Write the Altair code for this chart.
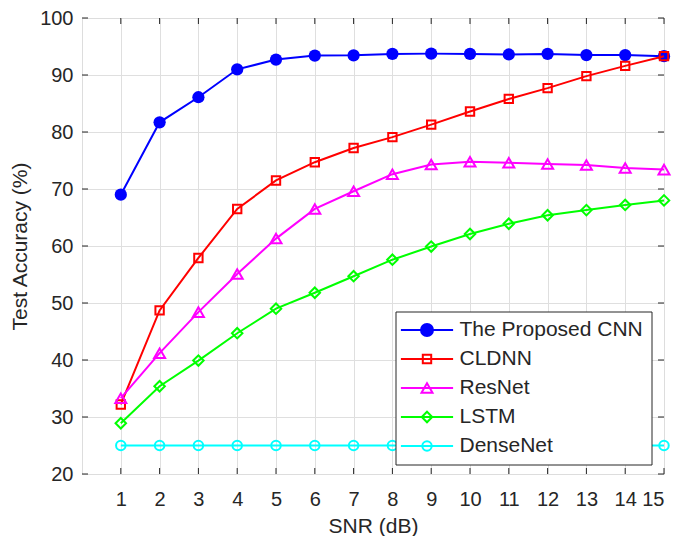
import altair as alt
import pandas as pd

snr = list(range(1, 16))
models = ["The Proposed CNN", "CLDNN", "ResNet", "LSTM", "DenseNet"]
cnn = [69.0, 81.7, 86.1, 91.0, 92.7, 93.4, 93.45, 93.7, 93.75, 93.7, 93.6, 93.7, 93.5, 93.5, 93.3]
cldnn = [32.2, 48.7, 57.9, 66.5, 71.5, 74.7, 77.2, 79.1, 81.3, 83.6, 85.8, 87.7, 89.8, 91.6, 93.3]
resnet = [33.3, 41.2, 48.4, 55.1, 61.3, 66.5, 69.6, 72.6, 74.3, 74.8, 74.6, 74.4, 74.2, 73.7, 73.4]
lstm = [28.9, 35.4, 39.9, 44.7, 49.0, 51.8, 54.7, 57.6, 59.9, 62.1, 63.9, 65.4, 66.3, 67.2, 68.0]
densenet = [25.0] * 15

x_ticks = list(range(1, 16))
y_ticks = list(range(20, 101, 10))

colors = ["#0000ff", "#ff0000", "#ff00ff", "#00ff00", "#00ffff"]
shapes = ["circle", "square", "triangle-up", "diamond", "circle"]
sizes = [150, 70, 121, 110, 90]
filled = [True, False, False, False, False]

series = [cnn, cldnn, resnet, lstm, densenet]
rows = []
for m, vals in zip(models, series):
    for s, v in zip(snr, vals):
        rows.append({"snr": s, "acc": v, "model": m})
df = pd.DataFrame(rows)
xt_df = pd.DataFrame({"snr": x_ticks})
yt_df = pd.DataFrame({"acc": y_ticks})

W, H = 582, 456
TXT = "#262626"
FONT = "Liberation Sans"

xs = alt.Scale(domain=[0, 15], nice=False, zero=False)
ys = alt.Scale(domain=[20, 100], nice=False, zero=False)

axes = [
    # labels + titles
    (alt.Axis(orient="bottom", values=x_ticks, title="SNR (dB)", grid=False, ticks=False, domain=False,
              labelFontSize=20, labelFont=FONT, labelColor=TXT, labelPadding=15,
              titleFontSize=21, titleFont=FONT, titleColor=TXT, titleFontWeight="normal", titlePadding=6),
     alt.Axis(orient="left", values=y_ticks, title="Test Accuracy (%)", grid=False, ticks=False, domain=False,
              labelFontSize=20, labelFont=FONT, labelColor=TXT, labelPadding=9,
              titleFontSize=21, titleFont=FONT, titleColor=TXT, titleFontWeight="normal", titlePadding=9)),
    # grid
    (alt.Axis(orient="bottom", values=x_ticks[:-1], labels=False, ticks=False, domain=False, title=None,
              grid=True, gridColor="#dfdfdf", gridWidth=1),
     alt.Axis(orient="left", values=y_ticks[1:-1], labels=False, ticks=False, domain=False, title=None,
              grid=True, gridColor="#dfdfdf", gridWidth=1)),
]

layers = []
k = 0
for i, m in enumerate(models):
    base = alt.Chart(df).transform_filter(alt.datum.model == m)
    for kind in ("line", "point"):
        if k < len(axes):
            ax, ay = axes[k]
        else:
            ax, ay = None, None
        enc = dict(
            x=alt.X("snr:Q", scale=xs, axis=ax),
            y=alt.Y("acc:Q", scale=ys, axis=ay),
        )
        if kind == "line":
            layers.append(base.mark_line(color=colors[i], strokeWidth=2).encode(**enc))
        else:
            if filled[i]:
                mk = base.mark_point(shape=shapes[i], size=sizes[i], filled=True, color=colors[i], opacity=1)
            else:
                mk = base.mark_point(shape=shapes[i], size=sizes[i], filled=False, color=colors[i],
                                     strokeWidth=2, opacity=1)
            layers.append(mk.encode(**enc))
        k += 1

# inward tick marks on all four sides of the box
TL = 6
tick_x = alt.Chart(xt_df)
tick_y = alt.Chart(yt_df)
layers += [
    tick_x.mark_rule(color=TXT, strokeWidth=1).encode(
        x=alt.X("snr:Q", scale=xs, axis=None), y=alt.value(H), y2=alt.value(H - TL)),
    tick_x.mark_rule(color=TXT, strokeWidth=1).encode(
        x=alt.X("snr:Q", scale=xs, axis=None), y=alt.value(0), y2=alt.value(TL)),
    tick_y.mark_rule(color=TXT, strokeWidth=1).encode(
        y=alt.Y("acc:Q", scale=ys, axis=None), x=alt.value(0), x2=alt.value(TL)),
    tick_y.mark_rule(color=TXT, strokeWidth=1).encode(
        y=alt.Y("acc:Q", scale=ys, axis=None), x=alt.value(W), x2=alt.value(W - TL)),
]

L = "M-4.35,0H4.35"
legend_paths = [
    L + "M1,0A1,1,0,1,1,-1,0A1,1,0,1,1,1,0Z",
    L + "M-0.7,-0.7H0.7V0.7H-0.7Z",
    L + "M0,-0.8L0.92,0.8L-0.92,0.8Z",
    L + "M0,-0.87L0.87,0L0,0.87L-0.87,0Z",
    L + "M0.78,0A0.78,0.78,0,1,1,-0.78,0A0.78,0.78,0,1,1,0.78,0Z",
]
legend_fill = ["#0000ff", "transparent", "transparent", "transparent", "transparent"]

leg = alt.Legend(
    title=None, orient="none", legendX=313.5, legendY=293.5,
    fillColor="white", strokeColor=TXT, padding=8,
    labelFont=FONT, labelFontSize=21, labelColor=TXT, labelOffset=22,
    symbolSize=144, symbolStrokeWidth=2, symbolOffset=13, symbolOpacity=1,
    rowPadding=7, labelLimit=400,
)
legend_layer = alt.Chart(df).mark_point(opacity=0).encode(
    x=alt.X("snr:Q", scale=xs, axis=None),
    y=alt.Y("acc:Q", scale=ys, axis=None),
    stroke=alt.Stroke("model:N", scale=alt.Scale(domain=models, range=colors), legend=leg),
    fill=alt.Fill("model:N", scale=alt.Scale(domain=models, range=legend_fill), legend=leg),
    shape=alt.Shape("model:N", scale=alt.Scale(domain=models, range=legend_paths), legend=leg),
)
layers.append(legend_layer)

chart = alt.layer(*layers).resolve_axis(x="independent", y="independent").properties(
    width=W, height=H,
    autosize=alt.AutoSizeParams(type="none"),
    padding={"left": 74, "top": 10, "right": 15, "bottom": 70},
).configure_view(stroke=TXT, strokeWidth=1).configure_legend(strokeWidth=1).configure(background="white")

chart.save("out.html", embed_options={"renderer": "svg", "actions": False})
